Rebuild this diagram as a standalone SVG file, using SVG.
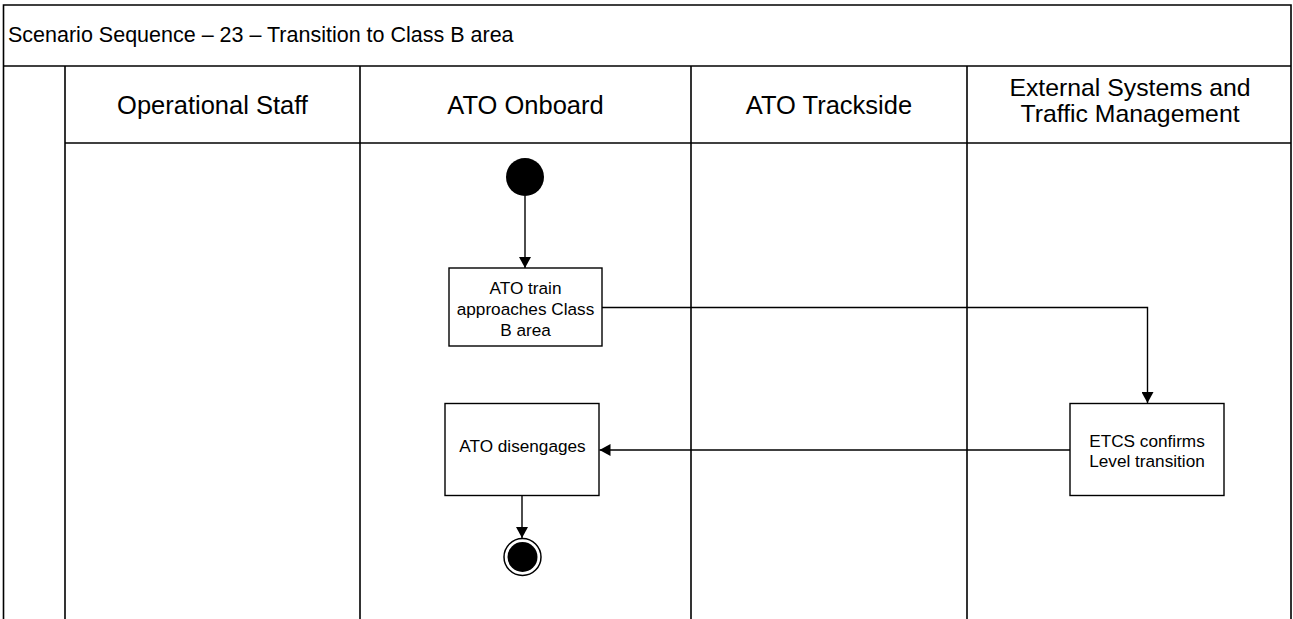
<svg xmlns="http://www.w3.org/2000/svg" width="1293" height="619" viewBox="0 0 1293 619">
  <style>
    .frame { fill: none; stroke: #000; stroke-width: 1.6; }
    .box { fill: #fff; stroke: #000; stroke-width: 1.4; }
    .conn { fill: none; stroke: #000; stroke-width: 1.4; }
    .title { font-family: "Liberation Sans", Arial, sans-serif; font-size: 21.5px; fill: #000; }
    .head { font-family: "Liberation Sans", Arial, sans-serif; font-size: 25.5px; fill: #000; text-anchor: middle; }
    .head2 { font-family: "Liberation Sans", Arial, sans-serif; font-size: 24.8px; fill: #000; text-anchor: middle; }
    .lbl { font-family: "Liberation Sans", Arial, sans-serif; font-size: 17.2px; fill: #000; text-anchor: middle; }
  </style>
  <defs>
    <marker id="arrow" markerUnits="userSpaceOnUse" markerWidth="12" markerHeight="12" refX="11" refY="6" orient="auto">
      <path d="M0,0 L11,6 L0,12 z" fill="#000"/>
    </marker>
  </defs>
  <rect x="0" y="0" width="1293" height="619" fill="#fff"/>

  <g id="frame">
    <path class="frame" d="M3.5,619 L3.5,5 L1291,5 L1291,619"/>
    <line class="frame" x1="3.5" y1="66" x2="1291" y2="66"/>
    <line class="frame" x1="65" y1="66" x2="65" y2="619"/>
    <line class="frame" x1="65" y1="143" x2="1291" y2="143"/>
    <line class="frame" x1="360" y1="66" x2="360" y2="619"/>
    <line class="frame" x1="691" y1="66" x2="691" y2="619"/>
    <line class="frame" x1="967" y1="66" x2="967" y2="619"/>
    <text class="title" x="8" y="42">Scenario Sequence – 23 – Transition to Class B area</text>
  </g>

  <g id="lane-headers">
    <text class="head" x="212.5" y="113.5">Operational Staff</text>
    <text class="head" x="525.5" y="113.5">ATO Onboard</text>
    <text class="head" x="829" y="113.5">ATO Trackside</text>
    <text class="head2" x="1130" y="96">External Systems and</text>
    <text class="head2" x="1130" y="122">Traffic Management</text>
  </g>

  <g id="connectors">
    <line class="conn" x1="525" y1="196" x2="525" y2="268" marker-end="url(#arrow)"/>
    <polyline class="conn" points="602,307.5 1147.5,307.5 1147.5,403" marker-end="url(#arrow)"/>
    <line class="conn" x1="1070" y1="450" x2="599.5" y2="450" marker-end="url(#arrow)"/>
    <line class="conn" x1="522" y1="496" x2="522" y2="538" marker-end="url(#arrow)"/>
  </g>

  <g id="start">
    <circle cx="525" cy="177" r="19" fill="#000"/>
  </g>

  <g id="approach">
    <rect class="box" x="449" y="268" width="153" height="78"/>
    <text class="lbl" x="525.5" y="293.5">ATO train</text>
    <text class="lbl" x="525.5" y="314.5">approaches Class</text>
    <text class="lbl" x="525.5" y="335.5">B area</text>
  </g>

  <g id="disengage">
    <rect class="box" x="445" y="403.5" width="154" height="92"/>
    <text class="lbl" x="522.5" y="452">ATO disengages</text>
  </g>

  <g id="etcs">
    <rect class="box" x="1070" y="403.5" width="154" height="92"/>
    <text class="lbl" x="1147" y="447">ETCS confirms</text>
    <text class="lbl" x="1147" y="467">Level transition</text>
  </g>

  <g id="end">
    <circle cx="522.5" cy="557" r="18.5" fill="#fff" stroke="#000" stroke-width="1.5"/>
    <circle cx="522.5" cy="557" r="15" fill="#000"/>
  </g>
</svg>
